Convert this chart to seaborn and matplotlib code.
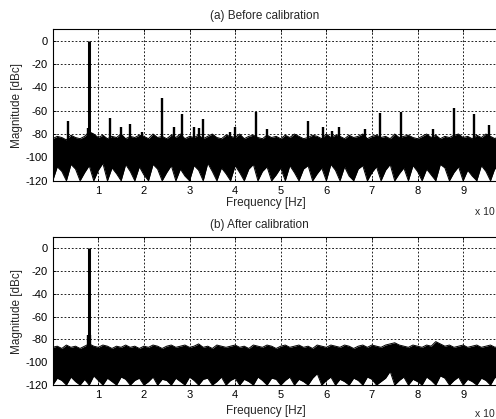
import matplotlib
matplotlib.use("Agg")
import matplotlib.pyplot as plt
import numpy as np
import pandas as pd
import seaborn as sns

# frequency grid of the noise envelope (x 10^k Hz), step 0.1
freq = np.round(np.arange(101) * 0.1, 1)

# (a) before calibration - noise floor envelope, dBc
before_top = [-84, -82, -83, -85, -81, -83, -84, -82, -78, -80,
              -83, -81, -84, -82, -83, -80, -84, -82, -83, -81,
              -82, -84, -80, -83, -82, -84, -81, -83, -80, -84,
              -82, -83, -81, -84, -82, -80, -83, -84, -81, -82,
              -83, -80, -84, -82, -81, -83, -84, -81, -83, -82,
              -84, -81, -83, -80, -82, -84, -83, -81, -82, -84,
              -80, -83, -81, -82, -84, -81, -83, -82, -80, -84,
              -82, -81, -83, -82, -84, -80, -83, -82, -81, -83,
              -84, -82, -80, -83, -81, -84, -82, -83, -81, -80,
              -83, -82, -84, -81, -83, -80, -82, -84, -81, -83,
              -82]
before_bot = [-120, -108, -112, -120, -106, -110, -120, -113, -107, -120,
              -111, -105, -120, -109, -114, -120, -106, -112, -120, -108,
              -115, -120, -106, -110, -120, -113, -107, -120, -110, -116,
              -120, -107, -111, -120, -105, -112, -120, -109, -114, -120,
              -107, -113, -120, -110, -106, -120, -112, -108, -120, -115,
              -109, -120, -107, -113, -120, -110, -107, -120, -114, -109,
              -120, -106, -111, -120, -108, -116, -120, -110, -107, -120,
              -113, -108, -120, -111, -106, -120, -114, -109, -120, -107,
              -112, -120, -110, -115, -120, -106, -109, -120, -113, -108,
              -120, -111, -116, -120, -107, -112, -120, -109, -114, -120,
              -110]

# (a) spurs
before_spur_f = [0.34, 0.77, 0.80, 0.86, 1.25, 1.49, 1.70, 1.95, 2.39, 2.65,
                 2.84, 3.10, 3.20, 3.30, 3.88, 4.00, 4.45, 4.71, 5.59, 5.93,
                 6.12, 6.28, 6.85, 7.18, 7.64, 8.35, 8.79, 9.24, 9.57]
before_spur_db = [-69, -75, 0, -79, -66, -74, -71, -78, -49, -74,
                  -63, -74, -75, -67, -78, -74, -61, -76, -69, -74,
                  -77, -74, -76, -62, -61, -76, -58, -63, -72]

# (b) after calibration - noise floor envelope, dBc
after_top = [-87, -86, -88, -85, -87, -86, -88, -86, -84, -86,
             -87, -85, -86, -88, -86, -87, -85, -87, -86, -88,
             -86, -87, -85, -86, -88, -86, -85, -87, -86, -85,
             -87, -86, -84, -87, -86, -88, -85, -86, -87, -86,
             -85, -87, -86, -88, -85, -86, -87, -85, -86, -88,
             -86, -85, -87, -86, -85, -87, -86, -88, -85, -86,
             -87, -85, -86, -87, -85, -86, -88, -86, -85, -87,
             -85, -86, -87, -85, -84, -83, -85, -86, -87, -85,
             -86, -87, -85, -86, -82, -84, -86, -85, -87, -86,
             -85, -87, -86, -85, -87, -86, -85, -87, -86, -85,
             -86]
after_bot = [-120, -114, -116, -120, -113, -117, -120, -115, -120, -112,
             -116, -120, -114, -117, -120, -113, -115, -120, -116, -114,
             -120, -117, -113, -120, -115, -116, -120, -114, -117, -120,
             -113, -116, -120, -115, -114, -120, -117, -113, -120, -116,
             -114, -120, -115, -117, -120, -113, -116, -120, -114, -115,
             -120, -116, -113, -120, -115, -117, -120, -114, -110, -120,
             -116, -113, -120, -115, -117, -120, -114, -116, -120, -113,
             -115, -120, -117, -114, -108, -120, -116, -113, -120, -115,
             -117, -120, -113, -116, -120, -112, -114, -120, -116, -113,
             -120, -115, -117, -120, -114, -116, -120, -113, -117, -120,
             -115]

# (b) spurs
after_spur_f = [0.78, 0.80, 0.82]
after_spur_db = [-76, 0, -76]

x_ticks = [1, 2, 3, 4, 5, 6, 7, 8, 9]
y_ticks = [-120, -100, -80, -60, -40, -20, 0]

sns.set_theme(style="ticks")
plt.rcParams['font.family'] = ['Liberation Sans', 'DejaVu Sans']
plt.rcParams['font.size'] = 8
plt.rcParams['axes.unicode_minus'] = False

W, H = 496, 419
fig = plt.figure(figsize=(W / 100, H / 100), dpi=100)
# axes run past the right border, as in the cropped original
ax1 = fig.add_axes([52.7 / W, 1 - 180.7 / H, 456 / W, 151.7 / H])
ax2 = fig.add_axes([52.7 / W, 1 - 385 / H, 456 / W, 148.4 / H])


def spectrum(ax, top, bot, spur_f, spur_db):
    df = pd.DataFrame({"freq": freq, "top": top, "bot": bot})
    ax.grid(True, color="black", linestyle=(0, (2.2, 2.2)), linewidth=0.6)
    ax.set_axisbelow(True)
    ax.fill_between(df["freq"], df["bot"], df["top"], color="black", lw=0)
    sns.lineplot(data=df, x="freq", y="top", color="black", lw=0.7, ax=ax)
    sns.lineplot(data=df, x="freq", y="bot", color="black", lw=0.7, ax=ax)
    widths = [2.2 if d == 0 else 1.7 for d in spur_db]
    ax.vlines(spur_f, -88, spur_db, color="black", lw=widths)
    ax.set_xlim(0, 10)
    ax.set_ylim(-120, 10)
    ax.set_xticks(x_ticks)
    ax.set_yticks(y_ticks)
    ax.set_xlabel("")
    ax.set_ylabel("")
    ax.tick_params(direction="in", length=2.5, width=0.6, labelsize=8,
                   top=True, right=True, pad=3.5, colors="black")
    for s in ax.spines.values():
        s.set_linewidth(0.8)
        s.set_color("black")


spectrum(ax1, before_top, before_bot, before_spur_f, before_spur_db)
spectrum(ax2, after_top, after_bot, after_spur_f, after_spur_db)

fig.text(265 / W, 1 - 16 / H, "(a) Before calibration", ha="center", va="center", fontsize=8.5)
fig.text(259 / W, 1 - 224.5 / H, "(b) After calibration", ha="center", va="center", fontsize=8.5)
fig.text(265.5 / W, 1 - 203 / H, "Frequency [Hz]", ha="center", va="center", fontsize=8.5)
fig.text(265.5 / W, 1 - 410.5 / H, "Frequency [Hz]", ha="center", va="center", fontsize=8.5)
fig.text(16.7 / W, 1 - 105 / H, "Magnitude [dBc]", rotation=90, ha="center", va="center", fontsize=8.5)
fig.text(16.7 / W, 1 - 311 / H, "Magnitude [dBc]", rotation=90, ha="center", va="center", fontsize=8.5)
fig.text(475 / W, 1 - 211.5 / H, "x 10", ha="left", va="center", fontsize=7.5)
fig.text(475 / W, 1 - 414 / H, "x 10", ha="left", va="center", fontsize=7.5)

fig.savefig("out.png", dpi=100)
